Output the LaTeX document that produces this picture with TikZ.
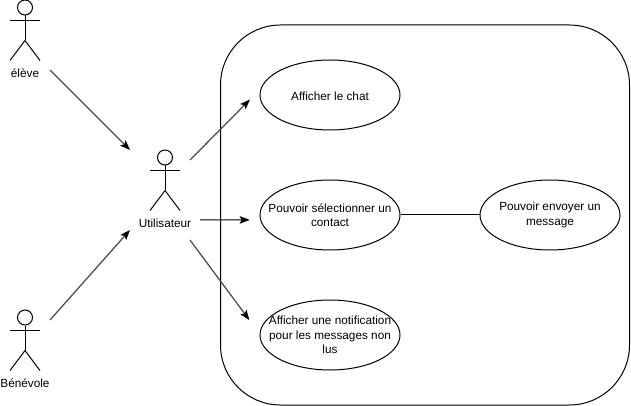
\documentclass[tikz,border=0pt]{standalone}
\usepackage{fontspec}
\setmainfont{Liberation Sans}
\usepackage{tikz}
\usetikzlibrary{calc, arrows.meta, positioning, shapes}

\begin{document}
\begin{tikzpicture}[auto, line width=0.02cm, font=\fontsize{6.7}{8.2}\selectfont]
		\tikzstyle{usecase} = [draw=black, ellipse, minimum width=2.8cm, minimum height=1.4cm, inner xsep=-0.4cm, inner ysep=0pt, align=center, execute at begin node={\rule{0pt}{0.23cm}}]
		\tikzstyle{system} = [draw=black, rectangle, rounded corners=1.2cm, minimum width=8.18cm, minimum height=7.6cm]
		\tikzstyle{head} = [draw=black, circle, minimum size=0.3cm, inner sep=0pt]
		\tikzstyle{arrow} = [-{Stealth[black, length=0.2cm, width=0.15cm, inset=0.04cm]}]
		\tikzstyle{diag} = [arrow, draw=black!70, line width=0.025cm]
		
		\useasboundingbox (0, 0) rectangle (12.62, -8.12);
		
		\node[system]	at (8.5, -4.3) 		(sys) 	{};
		
		\node[usecase]	at (6.6, -1.9) 		(chat) 		{Afficher le chat};
		\node[usecase]	at (6.6, -4.3)		(contact)	{Pouvoir sélectionner un \\ contact};
		\node[usecase]	at (11, -4.3)		(envoi)		{Pouvoir envoyer un \\ message};
		\node[usecase]	at (6.6, -6.7)		(notif)		{Afficher une notification \\ pour les messages non \\ lus};
		
		% stick figures
		\foreach \name/\x/\y/\txt in {eleve/0.5/-0.15/élève, util/3.3/-3.15/Utilisateur, benevole/0.5/-6.35/Bénévole} {
			\node[head] at (\x, \y) (\name) {};
			\draw (\name.south) -- ++(0, -0.5) coordinate (\name-hip);
			\draw ($(\name.south)+(-0.3, -0.1)$) -- ++(0.6, 0);
			\draw (\name-hip) -- ++(-0.3, -0.4);
			\draw (\name-hip) -- ++(0.3, -0.4);
			\node at ($(\name)+(0, -1.32)$) (\name-label) {\txt};
		}
		
		\coordinate (eleve-out) at (1, -1.4);
		\coordinate (benevole-out) at (1, -6.4);
		\coordinate (util-in1) at (2.6, -3);
		\coordinate (util-in2) at (2.6, -4.6);
		\coordinate (util-out1) at (3.8, -3.2);
		\coordinate (util-out2) at (4, -4.4);
		\coordinate (util-out3) at (3.8, -4.8);
		
		\draw [diag] (eleve-out) -- (util-in1);
		\draw [diag] (benevole-out) -- (util-in2);
		
		\draw [diag, shorten >=0.3cm] (util-out1) -- (chat.175);
		\draw [arrow, shorten >=0.21cm] (util-out2) -- (contact.184);
		\draw [diag, shorten >=0.34cm] (util-out3) -- (notif.179);
		
		\draw (contact) -- (envoi);
	\end{tikzpicture}
\end{document}
